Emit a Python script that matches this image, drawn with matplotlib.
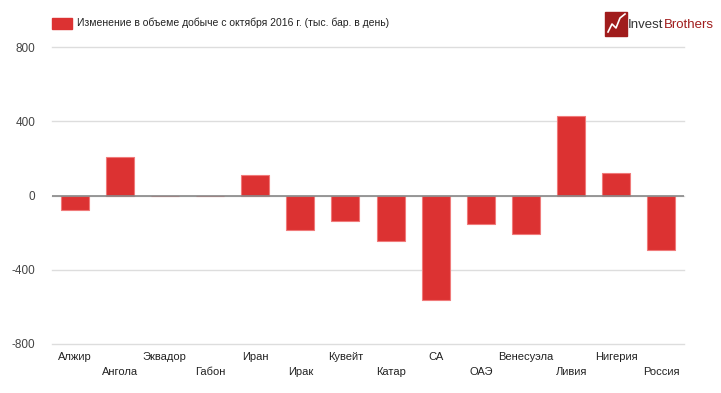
import numpy as np
import matplotlib.pyplot as plt
from matplotlib.patches import Rectangle

plt.rcParams['font.family'] = ['Liberation Sans', 'DejaVu Sans']

countries = ['Алжир', 'Ангола', 'Эквадор', 'Габон', 'Иран', 'Ирак', 'Кувейт',
             'Катар', 'СА', 'ОАЭ', 'Венесуэла', 'Ливия', 'Нигерия', 'Россия']
change = [-80, 210, 0, 0, 110, -185, -135, -245, -565, -155, -210, 430, 120, -295]
yticks = [-800, -400, 0, 400, 800]
legend_label = 'Изменение в объеме добыче с октября 2016 г. (тыс. бар. в день)'

bar_color = '#dc3232'

fig = plt.figure(figsize=(7.21, 3.93), dpi=100)
ax = fig.add_axes([52 / 721, 1 - 344 / 393, (684 - 52) / 721, (344 - 47) / 393])

x = np.arange(len(countries))
ax.bar(x, change, width=0.62, color=bar_color, edgecolor='#f07a7a', linewidth=0.8, zorder=3)

ax.set_xlim(-0.5, len(countries) - 0.5)
ax.set_ylim(-800, 800)
ax.set_yticks(yticks)
ax.set_yticklabels([str(v) for v in yticks], fontsize=8.5, color='#444444')
ax.tick_params(axis='y', length=0, pad=12)
ax.grid(axis='y', color='#dddddd', linewidth=1, zorder=0)
for gl in ax.get_ygridlines():
    gl.set_clip_on(False)
ax.axhline(0, color='#888888', linewidth=1.2, zorder=4)
ax.set_xticks([])
for s in ax.spines.values():
    s.set_visible(False)

# staggered category labels
for i, name in enumerate(countries):
    drop = 13 if i % 2 == 0 else 28
    ax.annotate(name, xy=(i, -800), xycoords='data',
                xytext=(0, -drop), textcoords='offset pixels',
                ha='center', va='center', fontsize=8, color='#222222')

# legend
fig.patches.append(Rectangle((52 / 721, 1 - 29 / 393), 20 / 721, 11 / 393,
                             transform=fig.transFigure, color=bar_color, figure=fig))
fig.text(77 / 721, 1 - 23 / 393, legend_label, fontsize=7.5, color='#222222', va='center')

# logo
fig.patches.append(Rectangle((605 / 721, 1 - 36 / 393), 22 / 721, 24 / 393,
                             transform=fig.transFigure, color='#a01c1c', figure=fig))
fig.lines.append(plt.Line2D([608 / 721, 612 / 721, 616 / 721, 620 / 721, 625 / 721],
                            [1 - 32 / 393, 1 - 24 / 393, 1 - 28 / 393, 1 - 18 / 393, 1 - 14 / 393],
                            transform=fig.transFigure, color='white', linewidth=1.2))
t1 = fig.text(628 / 721, 1 - 25 / 393, 'Invest', fontsize=9.5, color='#333333', va='center')
ax.annotate('Brothers', xy=(1, 0.5), xycoords=t1, va='center', ha='left',
            fontsize=9.5, color='#a01c1c', annotation_clip=False)

fig.savefig('out.png', dpi=100)
